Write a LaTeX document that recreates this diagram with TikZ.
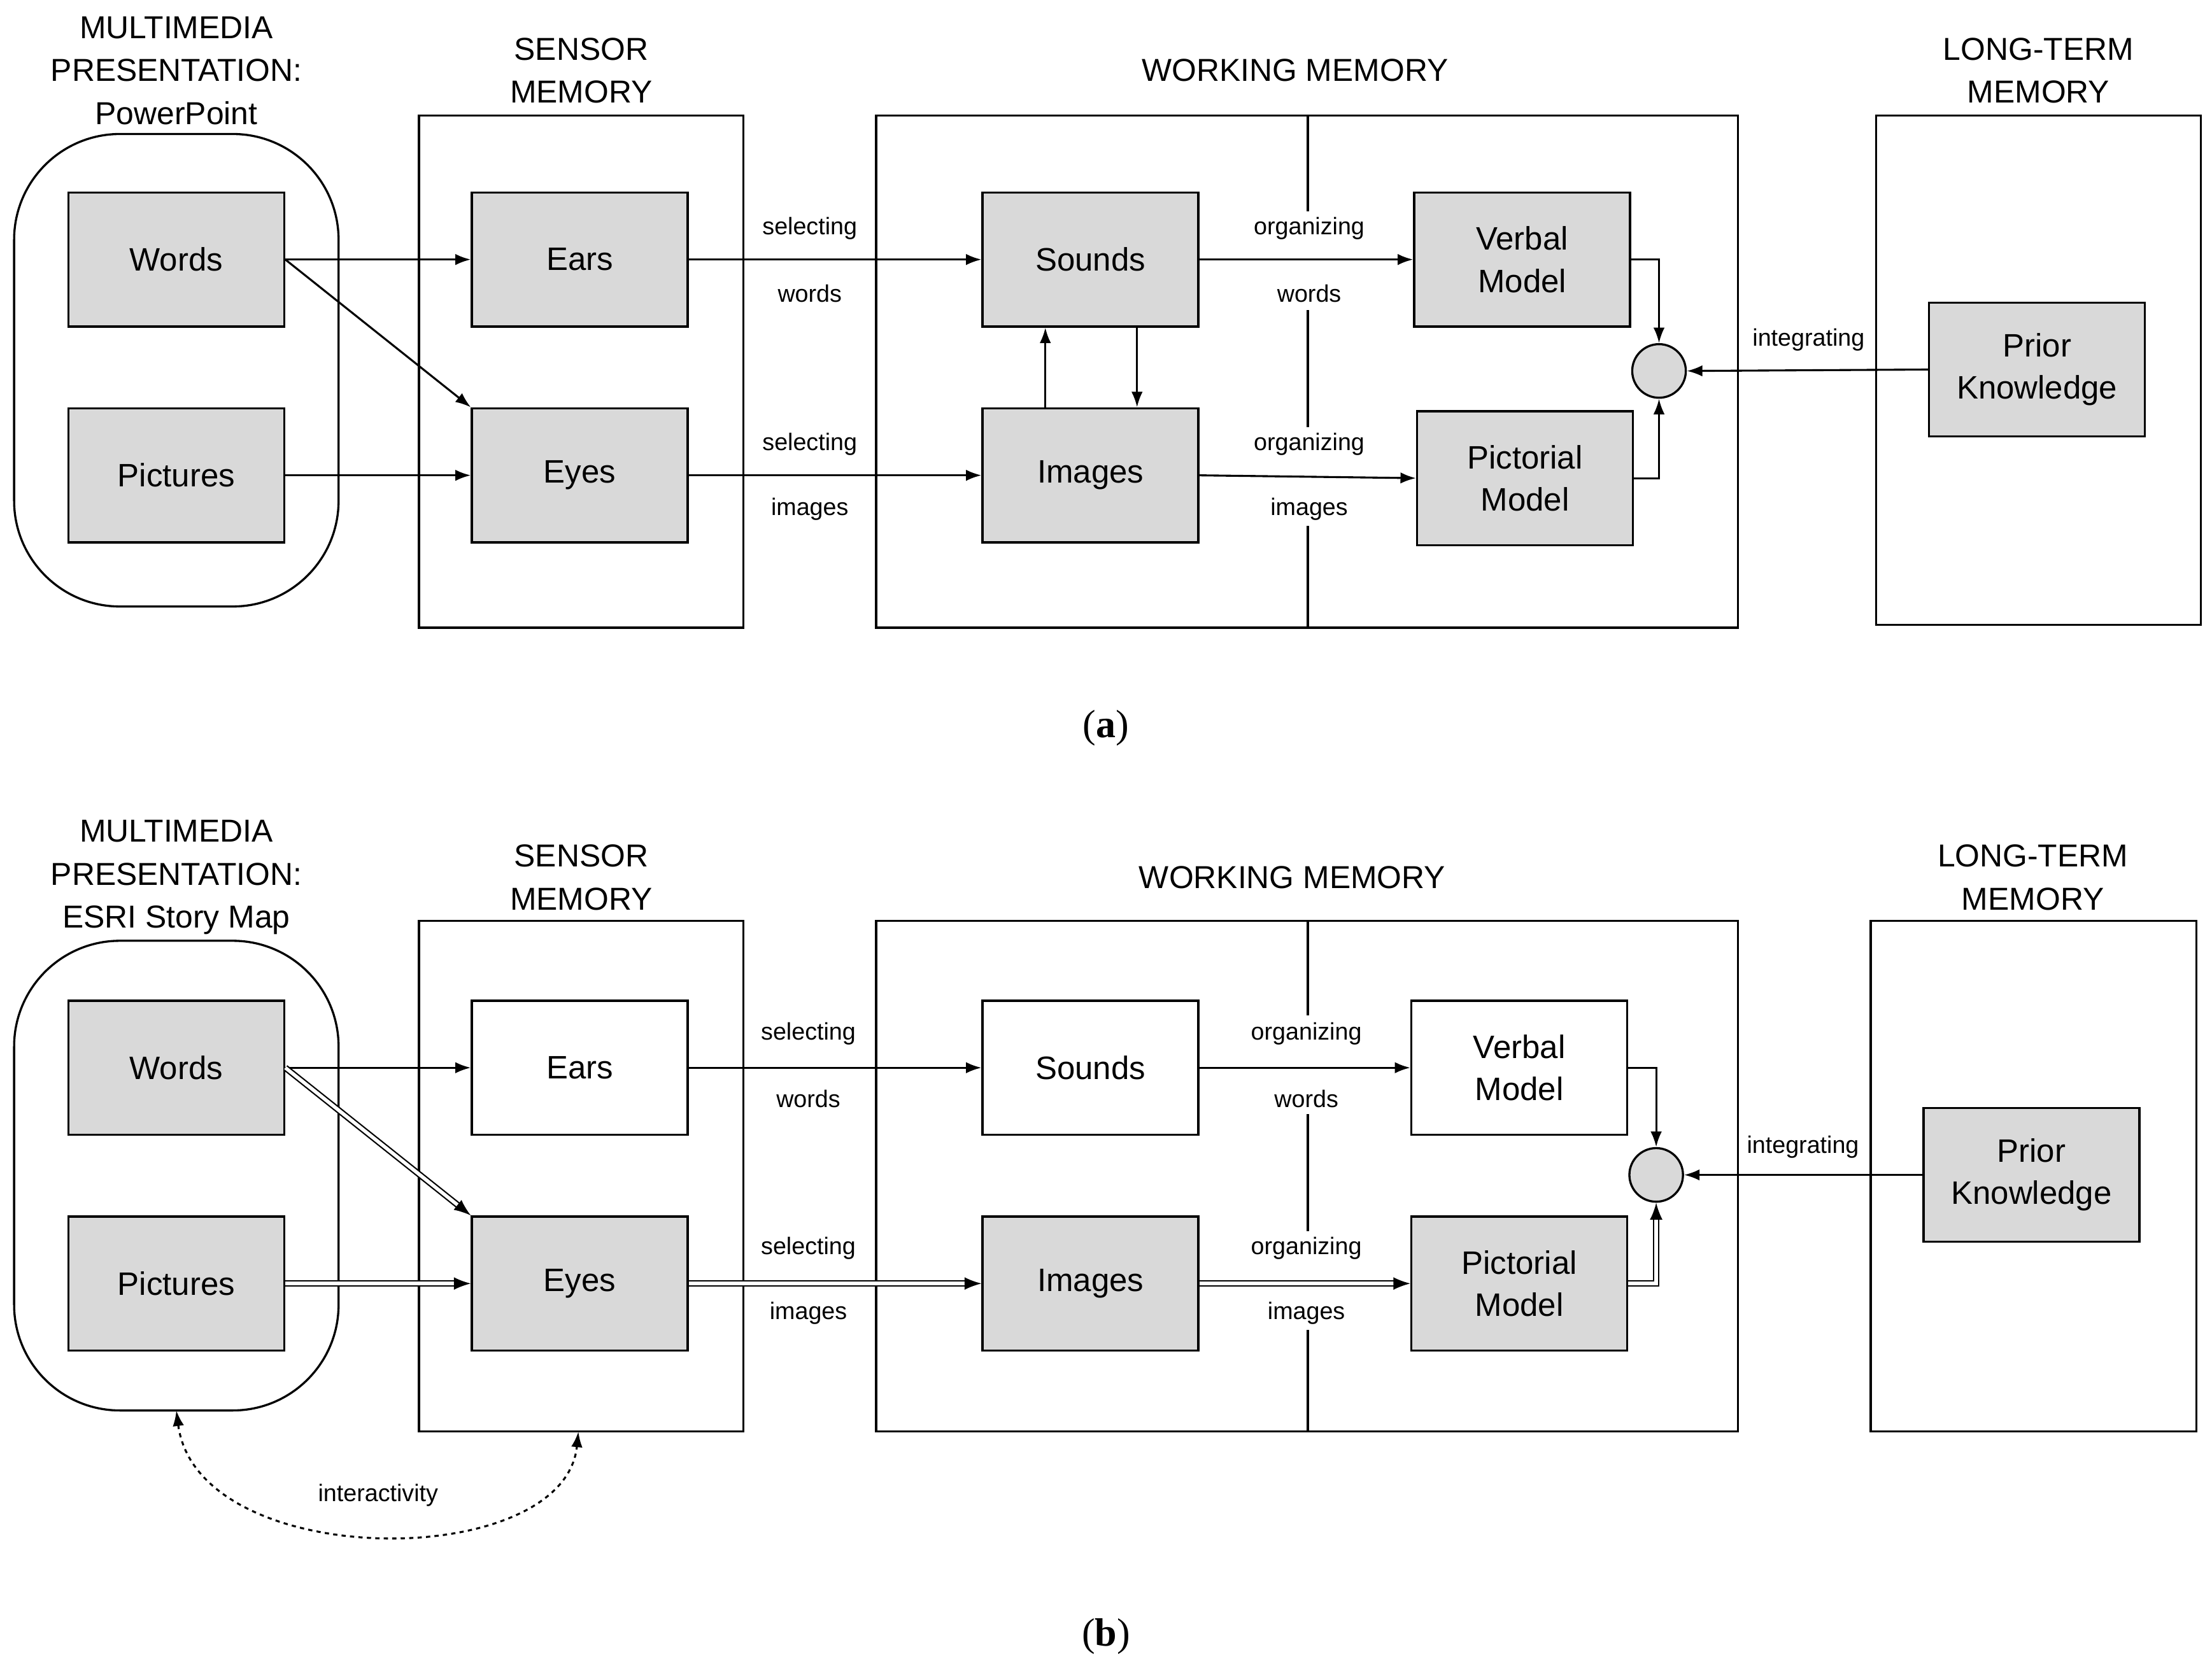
\documentclass[tikz,border=0pt]{standalone}
\usepackage{fontspec}
\setmainfont{Liberation Sans}
\newfontfamily\capfont{Liberation Serif}
\usetikzlibrary{arrows.meta}
\begin{document}
\begin{tikzpicture}[x=1pt,y=-1pt,
  box/.style={draw,line width=1.5pt,fill=black!15,minimum width=153pt,minimum height=95pt,font=\fontsize{23}{30}\selectfont,align=center},
  wbox/.style={box,fill=white},
  frame/.style={draw,line width=1.5pt},
  ttl/.style={font=\fontsize{22.5}{30.5}\selectfont,align=center},
  lab/.style={font=\fontsize{17}{20}\selectfont,fill=white,inner sep=1pt},
  ar/.style={line width=1.4pt,-{Latex[length=11pt,width=8pt]}},
  dar/.style={line width=1pt,double,double distance=2.5pt,-{Latex[length=12pt,width=9pt]}}]
\useasboundingbox (0,0) rectangle (1568,1186);
\fill[white] (0,0) rectangle (1568,1186);
% ---------- panel a
\node[ttl] (aT1) at (125,50) {MULTIMEDIA\\PRESENTATION:\\PowerPoint};
\draw[frame,rounded corners=75pt] (10,95) rectangle (240,430);
\node[ttl] (aT2) at (412,50) {SENSOR\\MEMORY};
\draw[frame] (297,82) rectangle (527,445);
\node[ttl] (aT3) at (918,50) {WORKING MEMORY};
\draw[frame] (621,82) rectangle (1232,445);
\draw[line width=1.5pt] (927,82) -- (927,150) (927,220) -- (927,303) (927,373) -- (927,445);
\node[ttl] (aT4) at (1445,50) {LONG-TERM\\MEMORY};
\draw[frame] (1330,82) rectangle (1560,443);
\node[box] (aWo) at (125,184) {Words};
\node[box] (aPi) at (125,337) {Pictures};
\node[box] (aEa) at (411,184) {Ears};
\node[box] (aEy) at (411,337) {Eyes};
\node[box] (aSo) at (773,184) {Sounds};
\node[box] (aIm) at (773,337) {Images};
\node[box] (aVe) at (1079,184) {Verbal\\Model};
\node[box] (aPm) at (1081,339) {Pictorial\\Model};
\node[box] (aPk) at (1444,262) {Prior\\Knowledge};
\node[draw,line width=1.5pt,fill=black!15,circle,minimum size=38pt,inner sep=0] (aC) at (1176,263) {};
\draw[ar] (aWo.east) -- (aEa.west);
\draw[ar] (aWo.east) -- (aEy.north west);
\draw[ar] (aPi.east) -- (aEy.west);
\draw[ar] (aEa.east) -- (aSo.west);
\draw[ar] (aEy.east) -- (aIm.west);
\draw[ar] (aSo.east) -- (aVe.west);
\draw[ar] (aIm.east) -- (aPm.west);
\draw[ar] ([xshift=-32pt]aIm.north) -- ([xshift=-32pt]aSo.south);
\draw[ar] ([xshift=33pt]aSo.south) -- ([xshift=33pt]aIm.north);
\draw[ar] (aVe.east) -| (aC.north);
\draw[ar] (aPm.east) -| (aC.south);
\draw[ar] (aPk.west) -- (aC.east);
\node[lab] (aL1) at (574,162) {selecting};
\node[lab] (aL2) at (574,208) {words};
\node[lab] (aL3) at (574,315) {selecting};
\node[lab] (aL4) at (574,361) {images};
\node[lab] (aL5) at (928,162) {organizing};
\node[lab] (aL6) at (928,208) {words};
\node[lab] (aL7) at (928,315) {organizing};
\node[lab] (aL8) at (928,361) {images};
\node[lab] (aL9) at (1282,241) {integrating};
\node[font=\capfont\fontsize{28}{32}\selectfont] (aCap) at (784,516) {(\textbf{a})};
% ---------- panel b
\node[ttl] (bT1) at (125,622) {MULTIMEDIA\\PRESENTATION:\\ESRI Story Map};
\draw[frame,rounded corners=75pt] (10,667) rectangle (240,1000);
\node[ttl] (bT2) at (412,622) {SENSOR\\MEMORY};
\draw[frame] (297,653) rectangle (527,1015);
\node[ttl] (bT3) at (916,622) {WORKING MEMORY};
\draw[frame] (621,653) rectangle (1232,1015);
\draw[line width=1.5pt] (927,653) -- (927,720) (927,790) -- (927,873) (927,943) -- (927,1015);
\node[ttl] (bT4) at (1441,622) {LONG-TERM\\MEMORY};
\draw[frame] (1326,653) rectangle (1557,1015);
\node[box] (bWo) at (125,757) {Words};
\node[box] (bPi) at (125,910) {Pictures};
\node[wbox] (bEa) at (411,757) {Ears};
\node[box] (bEy) at (411,910) {Eyes};
\node[wbox] (bSo) at (773,757) {Sounds};
\node[box] (bIm) at (773,910) {Images};
\node[wbox] (bVe) at (1077,757) {Verbal\\Model};
\node[box] (bPm) at (1077,910) {Pictorial\\Model};
\node[box] (bPk) at (1440,833) {Prior\\Knowledge};
\node[draw,line width=1.5pt,fill=black!15,circle,minimum size=38pt,inner sep=0] (bC) at (1174,833) {};
\draw[ar] (bWo.east) -- (bEa.west);
\draw[dar] (bWo.east) -- (bEy.north west);
\draw[dar] (bPi.east) -- (bEy.west);
\draw[ar] (bEa.east) -- (bSo.west);
\draw[dar] (bEy.east) -- (bIm.west);
\draw[ar] (bSo.east) -- (bVe.west);
\draw[dar] (bIm.east) -- (bPm.west);
\draw[ar] (bVe.east) -| (bC.north);
\draw[dar] (bPm.east) -| (bC.south);
\draw[ar] (bPk.west) -- (bC.east);
\node[lab] (bL1) at (573,733) {selecting};
\node[lab] (bL2) at (573,779) {words};
\node[lab] (bL3) at (573,885) {selecting};
\node[lab] (bL4) at (573,931) {images};
\node[lab] (bL5) at (926,733) {organizing};
\node[lab] (bL6) at (926,779) {words};
\node[lab] (bL7) at (926,885) {organizing};
\node[lab] (bL8) at (926,931) {images};
\node[lab] (bL9) at (1278,813) {integrating};
\coordinate (bI1) at (125,1000);
\coordinate (bI2) at (410,1015);
\draw[line width=1.4pt,dashed,{Latex[length=11pt,width=8pt]}-{Latex[length=11pt,width=8pt]}] (bI1) .. controls (140,1115) and (400,1115) .. (bI2);
\node[font=\fontsize{17}{20}\selectfont] (bL10) at (268,1060) {interactivity};
\node[font=\capfont\fontsize{28}{32}\selectfont] (bCap) at (784,1160) {(\textbf{b})};
\end{tikzpicture}
\end{document}
